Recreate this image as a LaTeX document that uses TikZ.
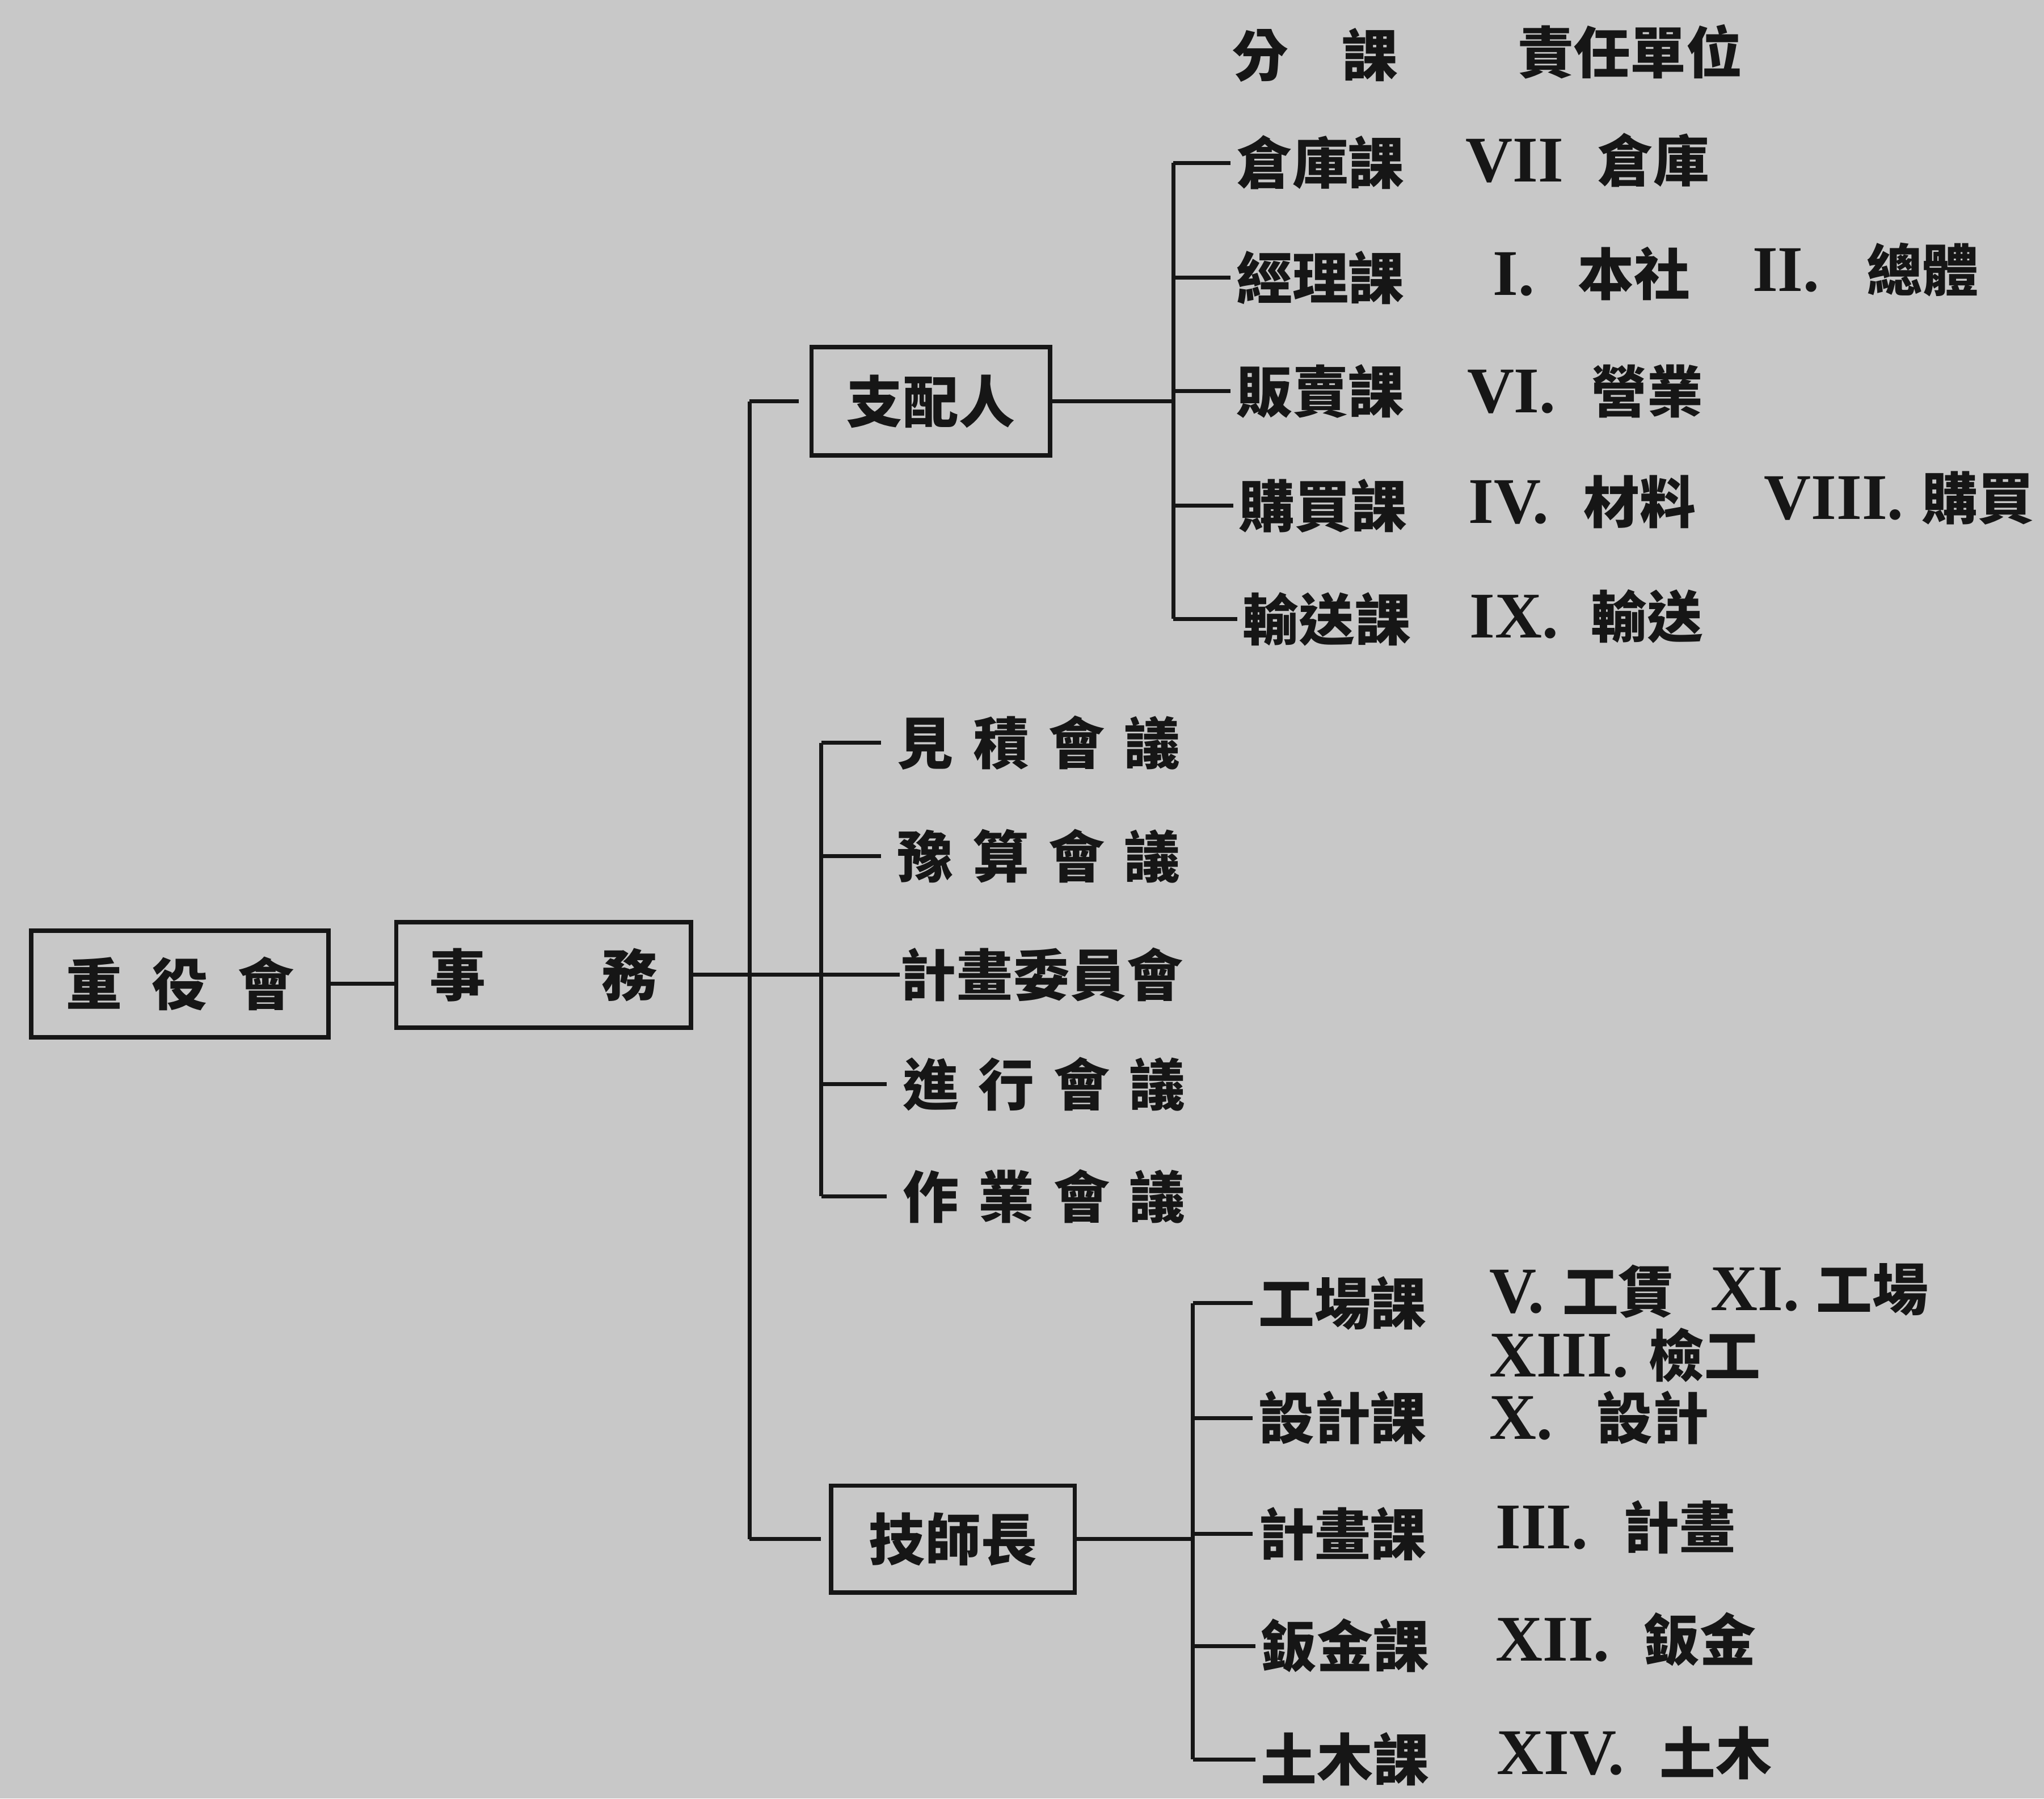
\documentclass[tikz,border=0pt]{standalone}
\usepackage{fontspec}
\newfontfamily\cj{Noto Sans CJK TC}
\newfontfamily\rnf{Liberation Serif}
\definecolor{paper}{RGB}{200,200,200}
\definecolor{ink}{RGB}{22,22,22}
\newcommand\nm[1]{{\rnf\bfseries\fontsize{25pt}{26pt}\selectfont #1}}
\tikzset{
  lbl/.style={font=\cj\bfseries\fontsize{21.5pt}{22pt}\selectfont, text=ink, inner sep=0pt,
              text height=19pt, text depth=2.6pt, anchor=west},
  orgbox/.style={lbl, anchor=center, draw=ink, line width=1.7pt},
  ln/.style={draw=ink, line width=1.5pt},
  tick/.style={ln, shorten >=2pt}
}
\begin{document}
\begin{tikzpicture}[x=0.5pt,y=-0.5pt]
\fill[paper] (0,0) rectangle (1568,1380);
\useasboundingbox (0,0) rectangle (1568,1380);

% boxes
\node[orgbox, minimum width=114pt, minimum height=41pt] (board) at (138,755) {\makebox[87.5pt]{重\hfill 役\hfill 會}};
\node[orgbox, minimum width=113pt, minimum height=40.5pt] (jimu) at (417,748) {\makebox[87.5pt]{事\hfill 務}};
\node[orgbox, minimum width=91.5pt, minimum height=41.5pt] (shihai) at (714,308) {支配人};
\node[orgbox, minimum width=93.5pt, minimum height=41pt] (gishi) at (731,1181) {技師長};

% header
\node[lbl] (hd1) at (945,42) {\makebox[63.5pt]{分\hfill 課}};
\node[lbl] (hd2) at (1164,40) {責任單位};

% top group
\node[lbl] (a1) at (948,125) {倉庫課};
\node[lbl] (a2) at (948,213) {經理課};
\node[lbl] (a3) at (948,300) {販賣課};
\node[lbl] (a4) at (950,388) {購買課};
\node[lbl] (a5) at (953,475) {輸送課};

\node[lbl] (t1) at (1124,123) {\nm{VII}\hspace{13pt}倉庫};
\node[lbl] (t2a) at (1145,210) {\nm{I.}\hspace{16.5pt}本社};
\node[lbl] (t2b) at (1344,207) {\nm{II.}\hspace{18pt}總體};
\node[lbl] (t3) at (1125,300) {\nm{VI.}\hspace{13.5pt}營業};
\node[lbl] (t4a) at (1126,385) {\nm{IV.}\hspace{13.5pt}材料};
\node[lbl] (t4b) at (1353,382) {\nm{VIII.}\hspace{7pt}購買};
\node[lbl] (t5) at (1127,473) {\nm{IX.}\hspace{12.5pt}輸送};

% meetings
\node[lbl] (m1) at (688,570) {\makebox[108.5pt]{見\hfill 積\hfill 會\hfill 議}};
\node[lbl] (m2) at (688,657) {\makebox[108.5pt]{豫\hfill 算\hfill 會\hfill 議}};
\node[lbl] (m3) at (690,748) {\makebox[108.5pt]{計\hfill 畫\hfill 委\hfill 員\hfill 會}};
\node[lbl] (m4) at (692,832) {\makebox[108.5pt]{進\hfill 行\hfill 會\hfill 議}};
\node[lbl] (m5) at (692,918) {\makebox[108.5pt]{作\hfill 業\hfill 會\hfill 議}};

% bottom group
\node[lbl] (b1) at (965,1000) {工場課};
\node[lbl] (b2) at (965,1088) {設計課};
\node[lbl] (b3) at (965,1177) {計畫課};
\node[lbl] (b4) at (967,1263) {鈑金課};
\node[lbl] (b5) at (967,1350) {土木課};

\node[lbl] (r1a) at (1142,991) {\nm{V.}\hspace{7pt}工賃};
\node[lbl] (r1b) at (1312,989) {\nm{XI.}\hspace{6.5pt}工場};
\node[lbl] (r1c) at (1142,1040) {\nm{XIII.}\hspace{7.5pt}檢工};
\node[lbl] (r2) at (1142,1088) {\nm{X.}\hspace{17pt}設計};
\node[lbl] (r3) at (1147,1172) {\nm{III.}\hspace{13.5pt}計畫};
\node[lbl] (r4) at (1147,1258) {\nm{XII.}\hspace{13pt}鈑金};
\node[lbl] (r5) at (1148,1345) {\nm{XIV.}\hspace{13.5pt}土木};

% coordinates of buses
\coordinate (tTop) at (575,308);
\coordinate (tBot) at (575,1181);
\coordinate (aTop) at (900,125);
\coordinate (aBot) at (900,475);
\coordinate (mTop) at (630,570);
\coordinate (mBot) at (630,918);
\coordinate (bTop) at (915,1000);
\coordinate (bBot) at (915,1350);

% connectors
\draw[ln] (board.east) -- (board.east -| jimu.west);
\draw[ln] (jimu.east) -- (m3.west);
\draw[ln] (tTop) -- (tBot);
\draw[ln, shorten >=4pt] (tTop) -- (shihai.west);
\draw[ln, shorten >=3pt] (tBot) -- (gishi.west);
\draw[ln] (shihai.east) -- (shihai.east -| aTop);
\draw[ln] (aTop) -- (aBot);
\foreach \n in {a1,a2,a3,a4,a5} \draw[tick] (\n.west -| aTop) -- (\n.west);
\draw[ln] (mTop) -- (mBot);
\foreach \n in {m1,m2,m4,m5} \draw[ln, shorten >=6pt] (\n.west -| mTop) -- (\n.west);
\draw[ln] (gishi.east) -- (gishi.east -| bTop);
\draw[ln] (bTop) -- (bBot);
\foreach \n in {b1,b2,b3,b4,b5} \draw[tick] (\n.west -| bTop) -- (\n.west);
\end{tikzpicture}
\end{document}
